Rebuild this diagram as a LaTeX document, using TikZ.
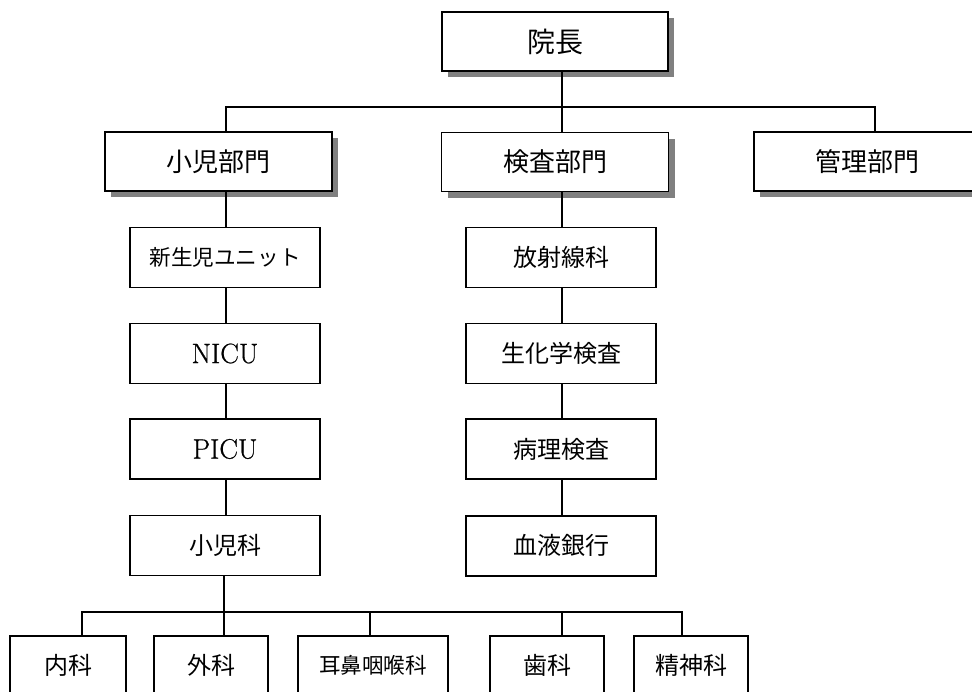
\documentclass[tikz,border=0pt]{standalone}
\usepackage{fontspec}
\newfontfamily\jp{Noto Sans CJK JP}
\newfontfamily\lat[FakeBold=0.6]{Latin Modern Roman}
\usetikzlibrary{shadows}
\definecolor{shgray}{HTML}{808080}
\tikzset{
  box/.style={draw=black, line width=1.6pt, fill=white, rectangle, inner sep=0pt},
  shbox/.style={box, general shadow={fill=shgray, shadow xshift=6pt, shadow yshift=-6pt}},
  topbox/.style={shbox, minimum width=226pt, minimum height=59pt, font=\jp\fontsize{28}{30}\selectfont},
  deptbox/.style={shbox, minimum width=227pt, minimum height=59pt, font=\jp\fontsize{26}{28}\selectfont},
  unitbox/.style={box, minimum width=190pt, minimum height=60pt, font=\jp\fontsize{24}{26}\selectfont},
  latbox/.style={box, minimum width=190pt, minimum height=60pt, font=\lat\fontsize{28}{30}\selectfont, text=black},
  leafbox/.style={box, minimum height=58pt, font=\jp\fontsize{24}{26}\selectfont},
  link/.style={draw=black, line width=1.6pt}
}
\begin{document}
\begin{tikzpicture}[x=1pt, y=-1pt]
\path[use as bounding box] (0,0) rectangle (972,691);
\clip (0,0) rectangle (972,691);
% top
\node[topbox] (head) at (555,41.5) {院長};
% departments
\node[deptbox] (d1) at (218.5,161.5) {小児部門};
\node[deptbox] (d2) at (555,162) {検査部門};
\node[deptbox] (d3) at (867.5,161.5) {管理部門};
% left chain
\node[unitbox, font=\jp\fontsize{21.6}{24}\selectfont] (l1) at (225,257.5) {新生児ユニット};
\node[latbox] (l2) at (225,353.5) {NICU};
\node[latbox] (l3) at (225,449) {PICU};
\node[unitbox] (l4) at (225,545.5) {小児科};
% right chain
\node[unitbox] (r1) at (561,257.3) {放射線科};
\node[unitbox] (r2) at (561,353.5) {生化学検査};
\node[unitbox] (r3) at (561,449) {病理検査};
\node[unitbox] (r4) at (561,545.7) {血液銀行};
% leaves
\node[leafbox, minimum width=116pt] (b1) at (68,665) {内科};
\node[leafbox, minimum width=114pt] (b2) at (211,665) {外科};
\node[leafbox, minimum width=150pt, font=\jp\fontsize{21.6}{24}\selectfont] (b3) at (373,665) {耳鼻咽喉科};
\node[leafbox, minimum width=114pt] (b4) at (547,665) {歯科};
\node[leafbox, minimum width=114pt] (b5) at (691,665) {精神科};
% bus coordinates
\coordinate (busA) at (562,107);
\coordinate (xa1) at (226,0);
\coordinate (xa3) at (875,0);
\coordinate (busB) at (224,612);
\coordinate (xb1) at (82,0);
\coordinate (xb4) at (562,0);
\coordinate (xb5) at (682,0);
\coordinate (xb3) at (370,0);
% top connectors
\draw[link] (head.south -| busA) -- (d2.north -| busA);
\draw[link] (d1.north -| xa1) |- (busA) -| (d3.north -| xa3);
% left chain connectors
\draw[link] (d1.south -| xa1) -- (l1.north -| xa1);
\draw[link] (l1.south -| xa1) -- (l2.north -| xa1);
\draw[link] (l2.south -| xa1) -- (l3.north -| xa1);
\draw[link] (l3.south -| xa1) -- (l4.north -| xa1);
% right chain connectors
\draw[link] (d2.south -| busA) -- (r1.north -| busA);
\draw[link] (r1.south -| busA) -- (r2.north -| busA);
\draw[link] (r2.south -| busA) -- (r3.north -| busA);
\draw[link] (r3.south -| busA) -- (r4.north -| busA);
% leaf connectors
\draw[link] (l4.south -| busB) -- (busB);
\draw[link] (b1.north -| xb1) |- (busB) -| (b5.north -| xb5);
\draw[link] (busB) -- (b2.north -| busB);
\draw[link] (busB -| xb3) -- (b3.north -| xb3);
\draw[link] (busB -| xb4) -- (b4.north -| xb4);
\end{tikzpicture}
\end{document}
